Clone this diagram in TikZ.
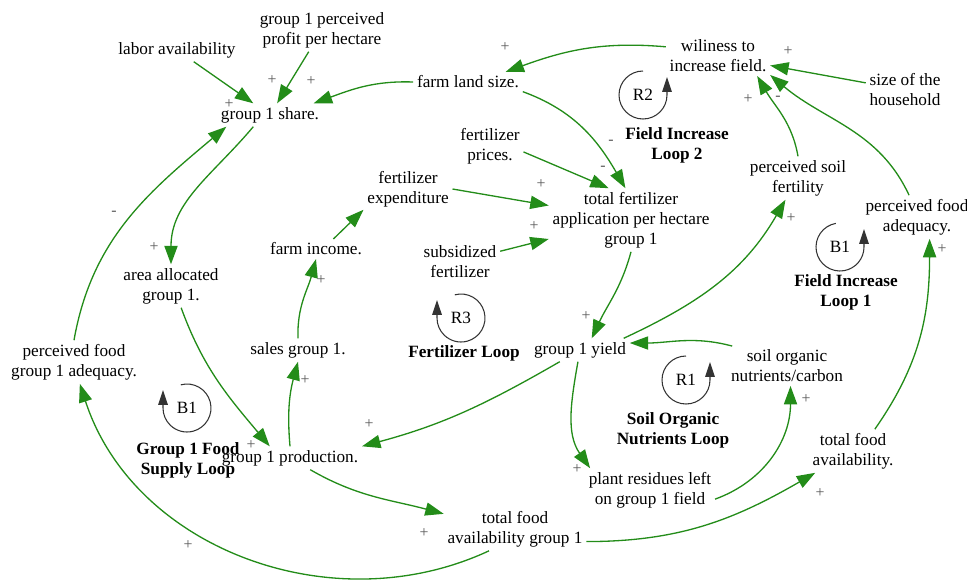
\documentclass[tikz,border=0pt]{standalone}
\usepackage{fontspec}
\setmainfont{Liberation Serif}
\usetikzlibrary{arrows.meta}
\definecolor{lgreen}{RGB}{35,140,25}

\begin{document}
\begin{tikzpicture}[x=0.02cm,y=0.02cm,
  var/.style={align=center,inner sep=2pt,font=\fontsize{9.8}{11.4}\selectfont},
  ttl/.style={align=center,inner sep=1pt,font=\fontsize{9.8}{11.4}\selectfont\bfseries},
  sgn/.style={inner sep=0pt,text=black!65,font=\fontsize{9}{10}\selectfont},
  lnk/.style={draw=lgreen,line width=0.75pt,-{Triangle[length=10.5pt,width=7.5pt]}},
  loopc/.style={draw=black!80,line width=0.6pt,-{Triangle[length=8.5pt,width=5.5pt]}}]
\useasboundingbox (0,0) rectangle (967,-579);
\node[var] (lab) at (177,-50) {labor availability};
\node[var] (prof) at (322,-30) {group 1 perceived\\profit per hectare};
\node[var] (share) at (270,-115) {group 1 share.};
\node[var] (land) at (468,-82) {farm land size.};
\node[var] (wil) at (718,-56) {wiliness to\\increase field.};
\node[var] (hh) at (905,-90) {size of the\\household};
\node[var] (price) at (490,-146) {fertilizer\\prices.};
\node[var] (expd) at (408,-189) {fertilizer\\expenditure};
\node[var] (tfert) at (631,-220) {total fertilizer\\application per hectare\\group 1};
\node[var] (subs) at (460,-262) {subsidized\\fertilizer};
\node[var] (inc) at (316,-249) {farm income.};
\node[var] (area) at (171,-286) {area allocated\\group 1.};
\node[var] (soilf) at (798,-178) {perceived soil\\fertility};
\node[var] (pfa) at (917,-217) {perceived food\\adequacy.};
\node[var] (yield) at (580,-350) {group 1 yield};
\node[var] (som) at (787,-366) {soil organic\\nutrients/carbon};
\node[var] (pfg) at (74,-362) {perceived food\\group 1 adequacy.};
\node[var] (sales) at (298,-350) {sales group 1.};
\node[var] (prod) at (290,-458) {group 1 production.};
\node[var] (res) at (650,-490) {plant residues left\\on group 1 field};
\node[var] (tfa) at (853,-451) {total food\\availability.};
\node[var] (tfg) at (515,-529) {total food\\availability group 1};

\node[var] (r2) at (643,-95) {R2};
\node[var] (b1r) at (840,-247) {B1};
\node[var] (r3) at (461,-318) {R3};
\node[var] (r1) at (686,-380) {R1};
\node[var] (b1l) at (187,-408) {B1};
\draw[loopc] (r2.center) ++(90:0.48cm) arc[start angle=90,end angle=360,radius=0.48cm] -- ++(0,0.36cm);
\draw[loopc] (b1r.center) ++(100:0.48cm) arc[start angle=100,end angle=360,radius=0.48cm] -- ++(0,0.36cm);
\draw[loopc] (r1.center) ++(90:0.48cm) arc[start angle=90,end angle=360,radius=0.48cm] -- ++(0,0.36cm);
\draw[loopc] (r3.center) ++(105:0.48cm) arc[start angle=105,end angle=-180,radius=0.48cm] -- ++(0,0.36cm);
\draw[loopc] (b1l.center) ++(105:0.48cm) arc[start angle=105,end angle=-180,radius=0.48cm] -- ++(0,0.36cm);
\node[ttl] (t2) at (677,-145) {Field Increase\\Loop 2};
\node[ttl] (t1) at (846,-292) {Field Increase\\Loop 1};
\node[ttl] (t3) at (464,-353) {Fertilizer Loop};
\node[ttl] (t4) at (673,-430) {Soil Organic\\Nutrients Loop};
\node[ttl] (t5) at (188,-460) {Group 1 Food\\Supply Loop};

\draw[lnk] (lab) -- (share);
\draw[lnk] (prof) -- (share);
\draw[lnk] (land.west) to[out=178,in=20] (share.15);
\draw[lnk] (wil.170) to[out=175,in=20] (land.15);
\draw[lnk] (hh) -- (wil);
\draw[lnk] (soilf.north) to[out=100,in=-60] (wil.-27);
\draw[lnk] (pfa.110) to[out=115,in=-40] (wil.-20);
\draw[lnk] (land.-10) to[out=-20,in=120] (tfert.100);
\draw[lnk] (price.-10) -- (tfert.125);
\draw[lnk] (expd.east) -- (tfert.170);
\draw[lnk] (subs.15) -- (tfert.193);
\draw[lnk] (inc.30) -- (expd.-155);
\draw[lnk] (tfert.south) to[out=-105,in=65] (yield.45);
\draw[lnk] (yield.15) to[out=25,in=-120] (soilf.-120);
\draw[lnk] (som.160) to[out=165,in=0] (yield.8);
\draw[lnk] (yield.-150) to[out=-150,in=15] (prod.north east);
\draw[lnk] (yield.-100) to[out=-100,in=125] (res.160);
\draw[lnk] (res.-8) to[out=20,in=-90] (som.-80);
\draw[lnk] (tfa.45) to[out=55,in=-90] (pfa.-60);
\draw[lnk] (prod.-30) to[out=-30,in=165] (tfg.168);
\draw[lnk] (tfg.-10) to[out=0,in=-150] (tfa.-150);
\draw[lnk] (tfg.-140) to[out=-155,in=-72] (pfg.-75);
\draw[lnk] (pfg.north) to[out=80,in=-140] (share.-165);
\draw[lnk] (share.-145) to[out=-130,in=90] (area.north);
\draw[lnk] (area.-65) to[out=-70,in=130] (prod.150);
\draw[lnk] (prod.north) to[out=95,in=-105] (sales.south);
\draw[lnk] (sales.north) to[out=92,in=-105] (inc.south);

\foreach \x/\y/\s [count=\i] in {229/104/+,272/80/+,311/81/+,505/47/+,788/51/+,
  748/99/+,778/98/-,611/142/-,603/168/-,541/184/+,534/226/+,586/316/+,791/218/+,
  942/249/+,114/213/-,154/247/+,321/280/+,305/380/+,251/445/+,369/424/+,
  577/469/+,806/399/+,424/533/+,820/493/+,188/545/+}
  \node[sgn] (sg\i) at (\x,-\y) {\s};
\end{tikzpicture}
\end{document}
